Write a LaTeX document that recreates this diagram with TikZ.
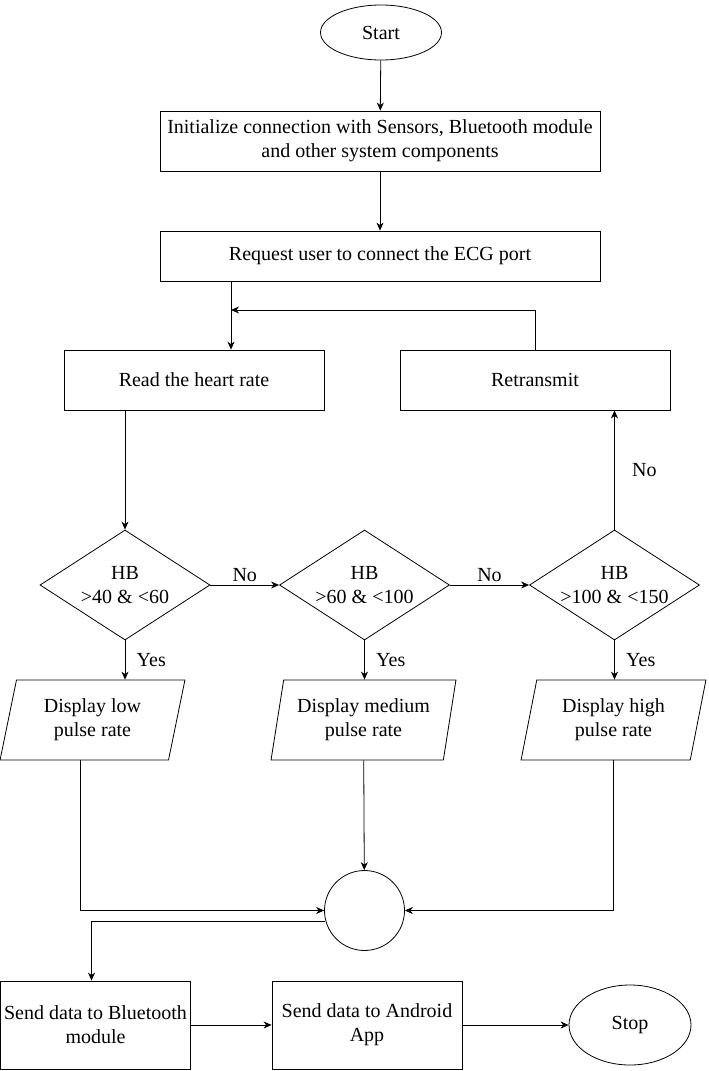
\documentclass[tikz,border=0pt]{standalone}
\usepackage{fontspec}
\setmainfont{Liberation Serif}
\usetikzlibrary{arrows.meta,positioning,shapes.geometric}

\begin{document}
\begin{tikzpicture}[x=1pt,y=-1pt, line width=0.8pt,
  every node/.style={font=\rmfamily\fontsize{20}{24}\selectfont},
  kutu/.style 2 args={draw,align=center,inner sep=2pt,
               minimum width=#1,minimum height=#2},
  uc/.style={draw,ellipse,inner sep=0pt,minimum width=121pt,minimum height=55pt},
  karar/.style={draw,diamond,align=center,inner sep=-6pt,aspect=1.55,
               minimum width=170pt,minimum height=110pt},
  ekran/.style={draw,trapezium,trapezium left angle=76,trapezium right angle=104,
               trapezium stretches=true,align=center,inner sep=0pt,
               minimum width=185pt,minimum height=80pt},
  ok/.style={-{Stealth[length=8pt,width=7pt,inset=2.5pt]}}]
\fill[white] (0,0) rectangle (709,1071);
\useasboundingbox (0,0) rectangle (709,1071);
% top part
\node[uc] (start) at (381,32.5) {Start};
\node[kutu={440pt}{60pt}] (init) at (380,141) {Initialize connection with Sensors, Bluetooth module\\and other system components};
\node[kutu={440pt}{50pt}] (request) at (380,256) {Request user to connect the ECG port};
\node[kutu={260pt}{60pt}] (read) at (194,380) {Read the heart rate};
\node[kutu={270pt}{60pt}] (retrans) at (535,380) {Retransmit};
% decisions
\node[karar] (hbLow) at (125,585) {HB\\>40 \& <60};
\node[karar] (hbMid) at (364.5,585) {HB\\>60 \& <100};
\node[karar] (hbHigh) at (614.5,585) {HB\\>100 \& <150};
\node[ekran] (dispLow) at (92.5,720) {Display low\\pulse rate};
\node[ekran] (dispMid) at (363.5,720) {Display medium\\pulse rate};
\node[ekran] (dispHigh) at (613.5,720) {Display high\\pulse rate};
% bottom part
\node[draw,circle,minimum size=80pt,inner sep=0pt] (join) at (364.5,910.5) {};
\node[kutu={190pt}{88pt}] (sendBT) at (95.5,1025) {Send data to Bluetooth\\module};
\node[kutu={190pt}{88pt}] (sendApp) at (367,1025) {Send data to Android\\App};
\node[uc,minimum width=122pt,minimum height=80pt] (stop) at (630,1025) {Stop};

\coordinate (loop) at (231,310);
\draw[ok] (start) -- (init);
\draw[ok] (init) -- (request);
\draw[ok] (request.south -| loop) -- (read.north -| loop);
\draw[ok] (retrans.north) |- (loop);
\draw[ok] (read.south -| hbLow.north) -- (hbLow.north);
\draw[ok] (hbLow) -- node[above]{No} (hbMid);
\draw[ok] (hbMid) -- node[above]{No} (hbHigh);
\draw[ok] (hbHigh.north) -- node[right,xshift=14pt]{No} (hbHigh.north |- retrans.south);
\foreach \d/\p in {hbLow/dispLow, hbMid/dispMid, hbHigh/dispHigh}
  \draw[ok] (\d.south) -- node[right,xshift=8pt]{Yes} (\d.south |- \p.north);
\draw[ok] ([xshift=-12.5pt]dispLow.south) |- (join.west);
\draw[ok] (dispMid) -- (join);
\draw[ok] (dispHigh.south) |- (join.east);
\draw[ok] (join.195) -| ([xshift=-4pt]sendBT.north);
\draw[ok] (sendBT) -- (sendApp);
\draw[ok] (sendApp) -- (stop);
\end{tikzpicture}
\end{document}
